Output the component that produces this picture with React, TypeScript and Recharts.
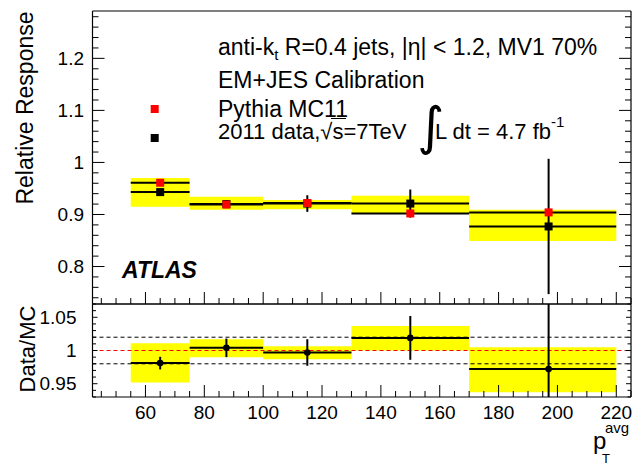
import React from "react";
import {
  ComposedChart,
  Scatter,
  XAxis,
  YAxis,
  ErrorBar,
  ReferenceArea,
  ReferenceLine,
} from "recharts";

const FONT = "'Liberation Sans', Arial, Helvetica, sans-serif";
const YELLOW = "#ffff00";

// pT(avg) bins
const binLow = [55, 75, 100, 130, 170];
const binHigh = [75, 100, 130, 170, 220];
const binCentre = [65, 87.5, 115, 150, 197];

// upper panel: relative response
const mcResponse = [0.961, 0.919, 0.922, 0.902, 0.904];
const dataResponse = [0.943, 0.92, 0.921, 0.921, 0.877];
const dataStatErr = [0.004, 0.007, 0.016, 0.027, 0.13];
const sysBandLow = [0.915, 0.909, 0.91, 0.902, 0.849];
const sysBandHigh = [0.97, 0.934, 0.928, 0.936, 0.909];

// lower panel: data / MC  (last error bar runs off both ends of the panel)
const ratio = [0.981, 1.004, 0.997, 1.019, 0.972];
const ratioStatErr = [[0.0095, 0.0095], [0.014, 0.014], [0.02, 0.02], [0.033, 0.033], [0.042, 0.098]];
const ratioBandLow = [0.952, 0.99, 0.987, 1.0, 0.937];
const ratioBandHigh = [1.011, 1.017, 1.0065, 1.037, 1.005];
const ratioGuides = [0.98, 1.02];

// ticks
const xMajor = [60, 80, 100, 120, 140, 160, 180, 200, 220];
const respMajor = [0.8, 0.9, 1, 1.1, 1.2];
const ratioMajor = [0.95, 1, 1.05];

const X_DOMAIN: [number, number] = [42, 225];
const RESP_DOMAIN: [number, number] = [0.728, 1.291];
const RATIO_DOMAIN: [number, number] = [0.93, 1.07];

// minor tick helper
const steps = (from: number, to: number, step: number) => {
  const out: number[] = [];
  for (let v = from; v <= to + step / 2; v += step) out.push(Math.round(v * 1000) / 1000);
  return out;
};
const xTicks = steps(45, 225, 5);
const respTicks = steps(0.74, 1.28, 0.02);
const ratioTicks = steps(0.93, 1.07, 0.01);

const mcPoints = binCentre.map((x, i) => ({
  x,
  y: mcResponse[i],
  ex: [x - binLow[i], binHigh[i] - x],
}));
const dataPoints = binCentre.map((x, i) => ({
  x,
  y: dataResponse[i],
  ex: [x - binLow[i], binHigh[i] - x],
  ey: dataStatErr[i],
}));
const ratioPoints = binCentre.map((x, i) => ({
  x,
  y: ratio[i],
  ex: [x - binLow[i], binHigh[i] - x],
  ey: ratioStatErr[i],
}));

const square = (fill: string) => (p: any) => (
  <rect x={p.cx - 4} y={p.cy - 4} width={8} height={8} fill={fill} />
);
const dot = (p: any) => <circle cx={p.cx} cy={p.cy} r={3.3} fill="#000" />;

const LINE = { stroke: "#000", strokeWidth: 1.2 };

type Side = "bottom" | "top" | "left" | "right";

// ROOT style inward ticks; majors get the long tick (and a label if asked)
const rootTick =
  (side: Side, majors: number[], majLen: number, minLen: number, labelGap = 0) =>
  (props: any) => {
    const { x, y, payload } = props;
    const v = payload.value;
    const major = majors.some((m) => Math.abs(m - v) < 1e-6);
    const len = major ? majLen : minLen;
    const dx = side === "left" ? len : side === "right" ? -len : 0;
    const dy = side === "bottom" ? -len : side === "top" ? len : 0;
    const label = labelGap > 0 && major;
    return (
      <g>
        <line x1={x} y1={y} x2={x + dx} y2={y + dy} stroke="#000" strokeWidth={1} />
        {label && side === "bottom" && (
          <text x={x} y={y + labelGap} textAnchor="middle" fontSize={19} fontFamily={FONT} fill="#000">
            {v}
          </text>
        )}
        {label && side === "left" && (
          <text x={x - labelGap} y={y + 6.7} textAnchor="end" fontSize={19} fontFamily={FONT} fill="#000">
            {v}
          </text>
        )}
      </g>
    );
  };

const axisBase = {
  type: "number" as const,
  allowDataOverflow: true,
  interval: 0 as const,
  tickSize: 0,
  tickMargin: 0,
  tickLine: false,
  axisLine: LINE,
};

function ResponsePanel() {
  return (
    <ComposedChart width={638} height={305} margin={{ top: 10, right: 6, bottom: 0, left: 0 }}>
      <XAxis {...axisBase} xAxisId={0} dataKey="x" domain={X_DOMAIN} ticks={xTicks} height={1}
        tick={rootTick("bottom", xMajor, 12, 6)} />
      <XAxis {...axisBase} xAxisId="top" orientation="top" domain={X_DOMAIN} ticks={xTicks} height={1}
        tick={rootTick("top", xMajor, 12, 6)} />
      <YAxis {...axisBase} yAxisId={0} dataKey="y" domain={RESP_DOMAIN} ticks={respTicks} width={92.5}
        tick={rootTick("left", respMajor, 12, 6, 8.5)} />
      <YAxis {...axisBase} yAxisId="right" orientation="right" domain={RESP_DOMAIN} ticks={respTicks} width={1}
        tick={rootTick("right", respMajor, 12, 6)} />
      {binLow.map((lo, i) => (
        <ReferenceArea
          key={lo}
          x1={lo}
          x2={binHigh[i]}
          y1={sysBandLow[i]}
          y2={sysBandHigh[i]}
          fill={YELLOW}
          fillOpacity={1}
          stroke="none"
        />
      ))}
      <Scatter data={dataPoints} shape={square("#000")} isAnimationActive={false}>
        <ErrorBar dataKey="ex" direction="x" width={0} stroke="#000" strokeWidth={2} isAnimationActive={false} />
        <ErrorBar dataKey="ey" direction="y" width={0} stroke="#000" strokeWidth={2} isAnimationActive={false} />
      </Scatter>
      <Scatter data={mcPoints} shape={square("#ff0000")} isAnimationActive={false}>
        <ErrorBar dataKey="ex" direction="x" width={0} stroke="#000" strokeWidth={2} isAnimationActive={false} />
      </Scatter>
    </ComposedChart>
  );
}

function RatioPanel() {
  return (
    <ComposedChart width={638} height={171} margin={{ top: 9, right: 6, bottom: 38, left: 0 }}>
      <XAxis {...axisBase} xAxisId={0} dataKey="x" domain={X_DOMAIN} ticks={xTicks} height={30}
        tick={rootTick("bottom", xMajor, 12, 6, 22)} />
      <XAxis {...axisBase} xAxisId="top" orientation="top" domain={X_DOMAIN} ticks={xTicks} height={1}
        tick={rootTick("top", xMajor, 10, 7)} />
      <YAxis {...axisBase} yAxisId={0} dataKey="y" domain={RATIO_DOMAIN} ticks={ratioTicks} width={92.5}
        tick={rootTick("left", ratioMajor, 5, 3.5, 16)} />
      <YAxis {...axisBase} yAxisId="right" orientation="right" domain={RATIO_DOMAIN} ticks={ratioTicks} width={1}
        tick={rootTick("right", ratioMajor, 5, 3.5)} />
      {binLow.map((lo, i) => (
        <ReferenceArea
          key={lo}
          x1={lo}
          x2={binHigh[i]}
          y1={ratioBandLow[i]}
          y2={ratioBandHigh[i]}
          fill={YELLOW}
          fillOpacity={1}
          stroke="none"
        />
      ))}
      {ratioGuides.map((g) => (
        <ReferenceLine key={g} y={g} stroke="#000" strokeWidth={1} strokeDasharray="4 3" />
      ))}
      <ReferenceLine y={1} stroke="#ff0000" strokeWidth={1} strokeDasharray="4 3" />
      <Scatter data={ratioPoints} shape={dot} isAnimationActive={false}>
        <ErrorBar dataKey="ex" direction="x" width={0} stroke="#000" strokeWidth={2} isAnimationActive={false} />
        <ErrorBar dataKey="ey" direction="y" width={0} stroke="#000" strokeWidth={2} isAnimationActive={false} />
      </Scatter>
    </ComposedChart>
  );
}

function Annotations() {
  const t = { fontFamily: FONT, fill: "#000" };
  return (
    <svg width={638} height={465} style={{ position: "absolute", left: 0, top: 0, pointerEvents: "none" }}>
      <text {...t} x={33} y={108} fontSize={23} textAnchor="middle" transform="rotate(-90 33 108)">
        Relative Response
      </text>
      <text {...t} x={35} y={349} fontSize={22} textAnchor="middle" transform="rotate(-90 35 349)">
        Data/MC
      </text>

      <text {...t} x={218} y={55} fontSize={23}>
        anti-k
        <tspan fontSize={15} dy={5}>t</tspan>
        <tspan dy={-5}> R=0.4 jets, |η| &lt; 1.2, MV1 70%</tspan>
      </text>
      <text {...t} x={218} y={88} fontSize={23}>EM+JES Calibration</text>
      <text {...t} x={218} y={116.5} fontSize={23}>Pythia MC11</text>
      <text {...t} x={218} y={138.5} fontSize={22}>2011 data,√s=7TeV</text>
      <line x1={331} y1={118.5} x2={346} y2={118.5} stroke="#000" strokeWidth={1} />
      <text x={417} y={144} fontSize={52} fontFamily="'DejaVu Sans'" fill="#000">∫</text>
      <text {...t} x={435} y={138.5} fontSize={22}>
        L dt = 4.7 fb
        <tspan fontSize={15} dy={-12}>-1</tspan>
      </text>

      <rect x={150.7} y={105} width={8} height={8} fill="#ff0000" />
      <rect x={150.7} y={134} width={8} height={8} fill="#000" />

      <text {...t} x={122} y={278} fontSize={23} fontWeight="bold" fontStyle="italic">ATLAS</text>

      <text {...t} x={593} y={449} fontSize={24}>p</text>
      <text {...t} x={602} y={463} fontSize={13}>T</text>
      <text {...t} x={605} y={433} fontSize={15}>avg</text>
    </svg>
  );
}

export default function App() {
  return (
    <div style={{ position: "absolute", left: 0, top: 0, width: 638, height: 465, background: "#fff" }}>
      <div style={{ position: "absolute", left: 0, top: 0 }}>
        <ResponsePanel />
      </div>
      <div style={{ position: "absolute", left: 0, top: 294 }}>
        <RatioPanel />
      </div>
      <Annotations />
    </div>
  );
}
